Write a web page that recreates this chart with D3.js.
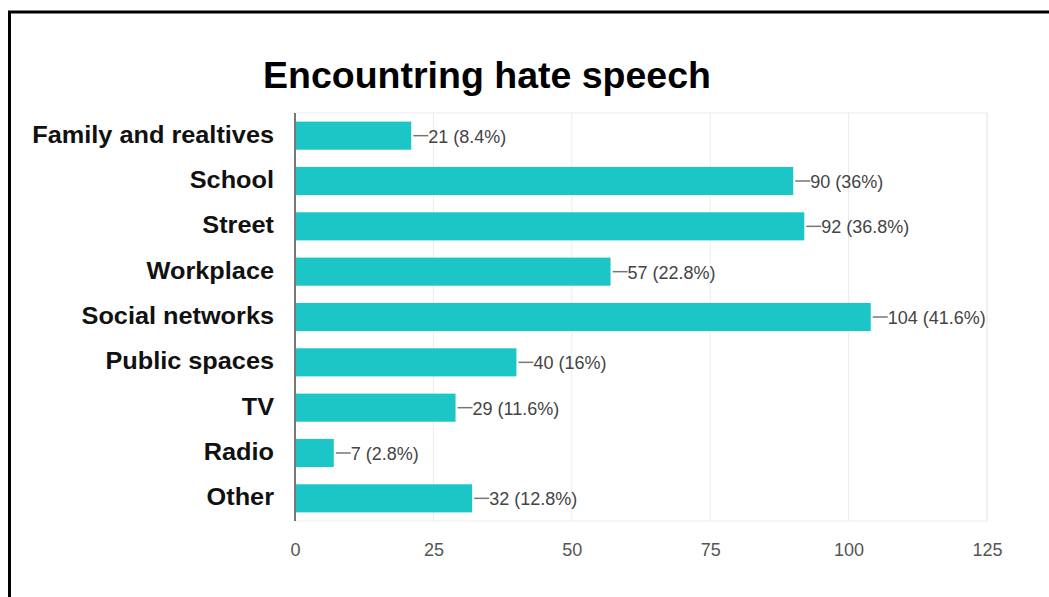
<!DOCTYPE html>
<html>
<head>
<meta charset="utf-8">
<script src="https://cdn.jsdelivr.net/npm/d3@7"></script>
<style>
  html, body { margin: 0; padding: 0; background: #fff; }
  svg { display: block; }
</style>
</head>
<body>
<svg id="chart" width="1049" height="597"></svg>
<script>
const categories = ["Family and realtives", "School", "Street", "Workplace", "Social networks", "Public spaces", "TV", "Radio", "Other"];
const values = [21, 90, 92, 57, 104, 40, 29, 7, 32];
const percents = ["8.4%", "36%", "36.8%", "22.8%", "41.6%", "16%", "11.6%", "2.8%", "12.8%"];
const xTicks = [0, 25, 50, 75, 100, 125];
const title = "Encountring hate speech";

(function () {
const svg = d3.select("#chart");
const W = 1049, H = 597;
const mLeft = 295, mRight = 987, mTop = 113, mBottom = 521;

// outer frame
svg.append("rect").attr("x", 9.5).attr("y", 12).attr("width", W + 10).attr("height", H + 10)
  .attr("fill", "#fff").attr("stroke", "#000").attr("stroke-width", 3);

const x = d3.scaleLinear().domain([0, 125]).range([mLeft, mRight]);
const y = d3.scaleBand().domain(categories).range([mTop, mBottom]).paddingInner(0.38).paddingOuter(0.19);

// plot area outline
svg.append("rect").attr("x", mLeft).attr("y", mTop).attr("width", mRight - mLeft).attr("height", mBottom - mTop)
  .attr("fill", "none").attr("stroke", "#ececec").attr("stroke-width", 1);

// gridlines
svg.append("g").selectAll("line").data(xTicks.slice(1)).join("line")
  .attr("x1", d => x(d)).attr("x2", d => x(d)).attr("y1", mTop).attr("y2", mBottom)
  .attr("stroke", "#ebebeb").attr("stroke-width", 1);

// x axis tick labels
const xAxis = d3.axisBottom(x).tickValues(xTicks).tickSize(0).tickPadding(0);
const gx = svg.append("g").attr("transform", `translate(0,${mBottom + 22})`).call(xAxis);
gx.select(".domain").remove();
gx.selectAll("text").attr("font-family", "Arial, 'Liberation Sans', sans-serif")
  .attr("font-size", 18).attr("fill", "#555");

// bars
svg.append("g").selectAll("rect").data(values).join("rect")
  .attr("x", x(0)).attr("y", (d, i) => y(categories[i]))
  .attr("width", d => x(d) - x(0)).attr("height", y.bandwidth())
  .attr("fill", "#1dc6c6");

// y axis line
svg.append("line").attr("x1", mLeft).attr("x2", mLeft).attr("y1", mTop).attr("y2", mBottom)
  .attr("stroke", "#777").attr("stroke-width", 2);

// y axis labels
const sx = 1.1;
const yAxis = d3.axisLeft(y).tickSize(0).tickPadding(20);
const gy = svg.append("g").attr("transform", `translate(${mLeft},0)`).call(yAxis);
gy.select(".domain").remove();
gy.selectAll("text").attr("font-family", "Arial, 'Liberation Sans', sans-serif")
  .attr("font-size", 23).attr("font-weight", "bold").attr("fill", "#111")
  .attr("x", -21 / sx).attr("dy", "0.3em").attr("transform", `scale(${sx},1)`);

// value labels with connector
const lab = svg.append("g").selectAll("g").data(values).join("g")
  .attr("transform", (d, i) => `translate(${x(d)},${y(categories[i]) + y.bandwidth() / 2})`);
lab.append("line").attr("x1", 2).attr("x2", 17).attr("y1", 0).attr("y2", 0)
  .attr("stroke", "#777").attr("stroke-width", 1.5);
lab.append("text").attr("x", 17).attr("dy", "0.38em")
  .attr("font-family", "Arial, 'Liberation Sans', sans-serif").attr("font-size", 18)
  .attr("fill", "#444")
  .text((d, i) => `${d} (${percents[i]})`);

// title
svg.append("text").attr("x", 263).attr("y", 88)
  .attr("font-family", "Arial, 'Liberation Sans', sans-serif").attr("font-size", 37.5)
  .attr("font-weight", "bold").attr("fill", "#000").text(title);
})();
</script>
</body>
</html>
